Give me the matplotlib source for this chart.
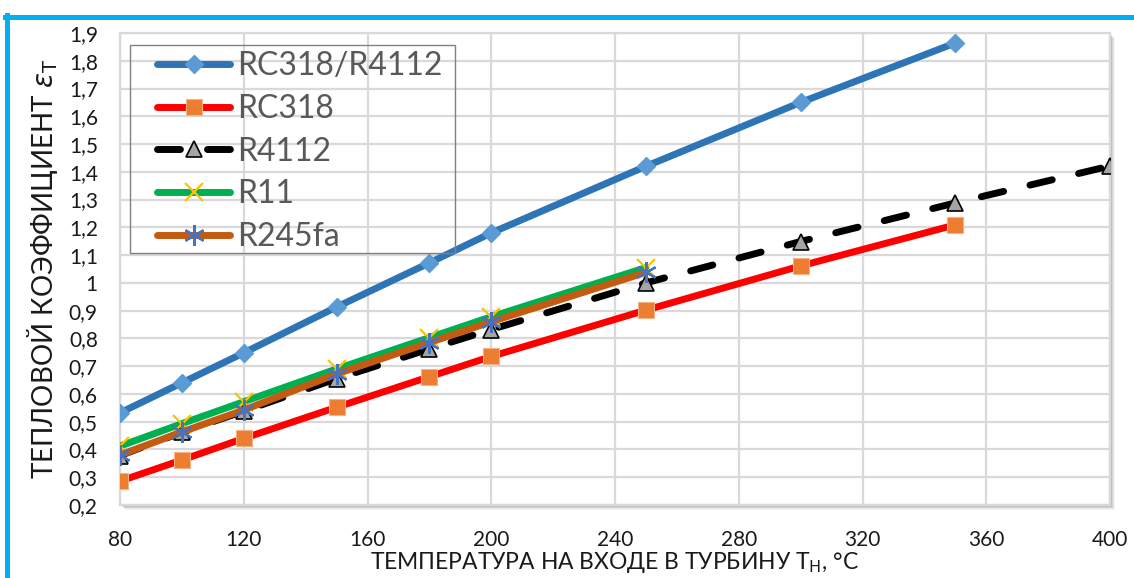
import matplotlib
matplotlib.use("Agg")
import matplotlib.pyplot as plt
from matplotlib.lines import Line2D
from matplotlib.patches import Rectangle
from matplotlib.ticker import MultipleLocator, FuncFormatter

# data
t_rc318_r4112 = [80, 100, 120, 150, 180, 200, 250, 300, 350]
e_rc318_r4112 = [0.532, 0.640, 0.748, 0.913, 1.072, 1.180, 1.420, 1.650, 1.864]

t_rc318 = [80, 100, 120, 150, 180, 200, 250, 300, 350]
e_rc318 = [0.286, 0.362, 0.440, 0.552, 0.662, 0.735, 0.902, 1.061, 1.209]

t_r4112 = [80, 100, 120, 150, 180, 200, 250, 300, 350, 400]
e_r4112 = [0.378, 0.462, 0.538, 0.655, 0.762, 0.832, 1.000, 1.149, 1.288, 1.421]

t_r11 = [80, 100, 120, 150, 180, 200, 250]
e_r11 = [0.412, 0.493, 0.572, 0.690, 0.803, 0.878, 1.055]

t_r245fa = [80, 100, 120, 150, 180, 200, 250]
e_r245fa = [0.380, 0.463, 0.542, 0.672, 0.785, 0.860, 1.038]

labels = ["RC318/R4112", "RC318", "R4112", "R11", "R245fa"]

W, H = 1134, 578
fig = plt.figure(figsize=(W / 100, H / 100), dpi=100)
fig.patch.set_facecolor("white")

# plot area in pixels: x 120..1110, y 33..505
ax = fig.add_axes([120 / W, (H - 505) / H, 990 / W, 472 / H])

# soft shadow behind the plot area
for i, a in enumerate([0.10, 0.08, 0.06, 0.04]):
    off = i + 2
    fig.patches.append(Rectangle(((120 + off) / W, (H - 505 - off) / H), 990 / W, 472 / H,
                                 transform=fig.transFigure, facecolor="black",
                                 alpha=a, edgecolor="none", zorder=0))
ax.set_zorder(1)
ax.set_facecolor("white")

ax.plot(t_rc318_r4112, e_rc318_r4112, color="#2E75B6", lw=5, marker="D", ms=9,
        mfc="#5B9BD5", mec="#5B9BD5", solid_capstyle="round", label=labels[0], zorder=3)
ax.plot(t_rc318, e_rc318, color="#FF0000", lw=5, marker="s", ms=12,
        mfc="#ED7D31", mec="#F4B183", mew=0.8, solid_capstyle="round", label=labels[1], zorder=3)
ax.plot(t_r4112, e_r4112, color="black", lw=5, ls=(0, (3.3, 3.9)), dash_capstyle="round",
        marker="^", ms=11, mfc="#A5A5A5", mec="black", mew=1.2, label=labels[2], zorder=3)
ax.plot(t_r11, e_r11, color="#00B050", lw=5, marker="x", ms=13, mec="#FFC000", mew=1.6,
        solid_capstyle="round", label=labels[3], zorder=3)
ax.plot(t_r245fa, e_r245fa, color="#C55A11", lw=5, marker=(6, 2, 0), ms=15, mec="#4472C4",
        mew=1.6, solid_capstyle="round", label=labels[4], zorder=3)

ax.set_xlim(80, 400)
ax.set_ylim(0.2, 1.9)
ax.xaxis.set_major_locator(MultipleLocator(40))
ax.yaxis.set_major_locator(MultipleLocator(0.1))


def fmt_y(v, pos):
    s = ("%.1f" % v).replace(".", ",")
    return "1" if s == "1,0" else s


ax.yaxis.set_major_formatter(FuncFormatter(fmt_y))
ax.grid(True, color="#D9D9D9", lw=1.6)
ax.set_axisbelow(True)
for sp in ax.spines.values():
    sp.set_color("#D9D9D9")
    sp.set_linewidth(1.6)
ax.tick_params(length=0, labelsize=15, colors="#1A1A1A", labelfontfamily="Lato")
ax.tick_params(axis="x", pad=18)
ax.tick_params(axis="y", pad=16)

ax.set_xlabel("ТЕМПЕРАТУРА НА ВХОДЕ В ТУРБИНУ Т$_{\\mathrm{Н}}$, °С", fontsize=16.5,
              family=["Lato", "DejaVu Sans"], color="#1A1A1A", labelpad=0)
ax.set_ylabel("ТЕПЛОВОЙ КОЭФФИЦИЕНТ $\\varepsilon_{\\mathrm{Т}}$", fontsize=20,
              family=["Lato", "DejaVu Sans"], color="#1A1A1A", labelpad=6)

# legend without its own frame, box drawn at the reference position
leg = ax.legend(loc="upper left", bbox_to_anchor=(37 / 990, (505 - 51) / 472),
                borderaxespad=0, prop={"family": "Lato", "size": 23},
                frameon=False, handlelength=2.3, handletextpad=0.2, labelspacing=0.4,
                borderpad=0.0, numpoints=1)
for txt in leg.get_texts():
    txt.set_color("#595959")
ax.add_patch(Rectangle((10 / 990, (505 - 253) / 472), 325 / 990, 208 / 472,
                       transform=ax.transAxes, facecolor="none", edgecolor="#808080",
                       lw=1.0, zorder=4))

# light blue frame on top and left
fig.add_artist(Line2D([5 / W, 1], [(H - 17) / H, (H - 17) / H], color="#00B0F0", lw=3.6,
                      transform=fig.transFigure))
fig.add_artist(Line2D([7 / W, 7 / W], [0, (H - 15) / H], color="#00B0F0", lw=3.6,
                      transform=fig.transFigure))

fig.savefig("out.png", dpi=100)
